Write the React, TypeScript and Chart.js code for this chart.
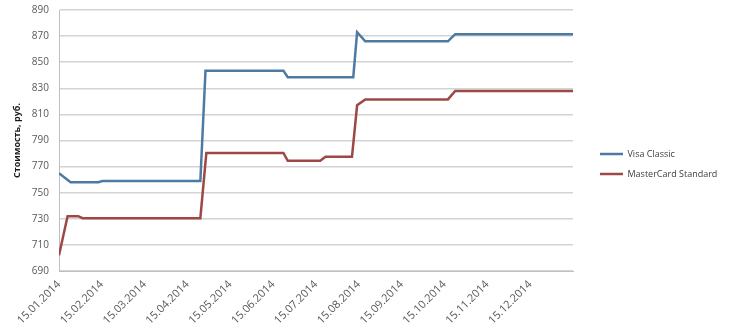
import React, { useEffect, useRef } from "react";
import { Chart, registerables } from "chart.js";

Chart.register(...registerables);

const monthLabels = [
  "15.01.2014", "15.02.2014", "15.03.2014", "15.04.2014", "15.05.2014", "15.06.2014",
  "15.07.2014", "15.08.2014", "15.09.2014", "15.10.2014", "15.11.2014", "15.12.2014",
];

// x in months since 15.01.2014
const visaX = [0, 0.27, 0.92, 1.01, 3.30, 3.42, 5.24, 5.34, 6.87, 6.96, 7.15, 9.08, 9.25, 12];
const visaY = [765, 758, 758, 759, 759, 843.5, 843.5, 838.5, 838.5, 873, 866, 866, 871.5, 871.5];

const mcX = [0, 0.2, 0.45, 0.55, 3.30, 3.44, 5.24, 5.34, 6.10, 6.22, 6.84, 6.96, 7.15, 9.08, 9.25, 12];
const mcY = [702, 732, 732, 730.5, 730.5, 780.5, 780.5, 774.5, 774.5, 777.5, 777.5, 817, 821.5, 821.5, 828, 828];

const seriesNames = ["Visa Classic", "MasterCard Standard"];
const yTitle = "Стоимость, руб.";

const W = 742;
const H = 328;
const PLOT_RIGHT = 573;
const LEGEND_ITEM_X = 600;
const LEGEND_PAD = 11;
const LEGEND_DY = -5;

const legendPlacement = {
  id: "legendPlacement",
  afterInit(chart: any) {
    const lg = chart.legend;
    if (lg && !lg.__patched) {
      const orig = lg.fit.bind(lg);
      lg.fit = function () {
        orig();
        this.width = W - PLOT_RIGHT;
      };
      lg.__patched = true;
    }
  },
  afterLayout(chart: any) {
    const lg = chart.legend;
    if (!lg) return;
    const dx = LEGEND_ITEM_X - PLOT_RIGHT - LEGEND_PAD;
    lg.left += dx;
    lg.right += dx;
    lg.top += LEGEND_DY;
    lg.bottom += LEGEND_DY;
  },
};

export default function App() {
  const ref = useRef<HTMLCanvasElement | null>(null);

  useEffect(() => {
    document.body.style.margin = "0";
    const ctx = ref.current!;
    const font = "'Open Sans', 'DejaVu Sans', sans-serif";
    const chart = new Chart(ctx, {
      type: "line",
      data: {
        datasets: [
          {
            label: seriesNames[0],
            data: visaX.map((x, i) => ({ x, y: visaY[i] })),
            borderColor: "#4d7aa2",
            backgroundColor: "#4d7aa2",
            borderWidth: 2.5,
            pointRadius: 0,
            tension: 0,
          },
          {
            label: seriesNames[1],
            data: mcX.map((x, i) => ({ x, y: mcY[i] })),
            borderColor: "#9e4846",
            backgroundColor: "#9e4846",
            borderWidth: 2.5,
            pointRadius: 0,
            tension: 0,
          },
        ],
      },
      plugins: [legendPlacement],
      options: {
        animation: false,
        responsive: true,
        maintainAspectRatio: false,
        layout: { padding: { left: 8, top: 10, right: 0, bottom: 0 } },
        plugins: {
          tooltip: { enabled: false },
          legend: {
            position: "right",
            align: "center",
            labels: {
              usePointStyle: true,
              pointStyle: "line",
              pointStyleWidth: 23,
              boxHeight: 9,
              padding: LEGEND_PAD,
              color: "#404040",
              font: { family: font, size: 9 },
            },
          },
        },
        scales: {
          x: {
            type: "linear",
            min: 0,
            max: 12,
            afterBuildTicks: (s: any) => {
              s.ticks = monthLabels.map((_, i) => ({ value: i }));
            },
            afterFit: (s: any) => {
              s.height = H - 271;
            },
            grid: { display: false, drawTicks: false },
            border: { display: true, color: "#bfbfbf", width: 1 },
            ticks: {
              autoSkip: false,
              maxRotation: 45,
              minRotation: 45,
              padding: 7,
              color: "#595959",
              font: { family: font, size: 11 },
              callback: (v: any) => monthLabels[v] ?? "",
            },
          },
          y: {
            min: 690,
            max: 890,
            afterFit: (s: any) => {
              s.width = 59 - 8;
              s.paddingTop = 0;
              s.paddingBottom = 0;
            },
            ticks: {
              stepSize: 20,
              padding: 10,
              color: "#595959",
              font: { family: font, size: 10 },
            },
            grid: { color: "#d3d3d3", lineWidth: 1.5, drawTicks: false },
            border: { display: true, color: "#bfbfbf", width: 1 },
            title: {
              display: true,
              text: yTitle,
              color: "#1a1a1a",
              font: { family: font, size: 9, weight: "bold" },
              padding: { top: 4, bottom: 4 },
            },
          },
        },
      },
    });
    return () => chart.destroy();
  }, []);

  return (
    <div style={{ position: "fixed", left: 0, top: 0, width: W, height: H, background: "#fff" }}>
      <canvas ref={ref} />
    </div>
  );
}
